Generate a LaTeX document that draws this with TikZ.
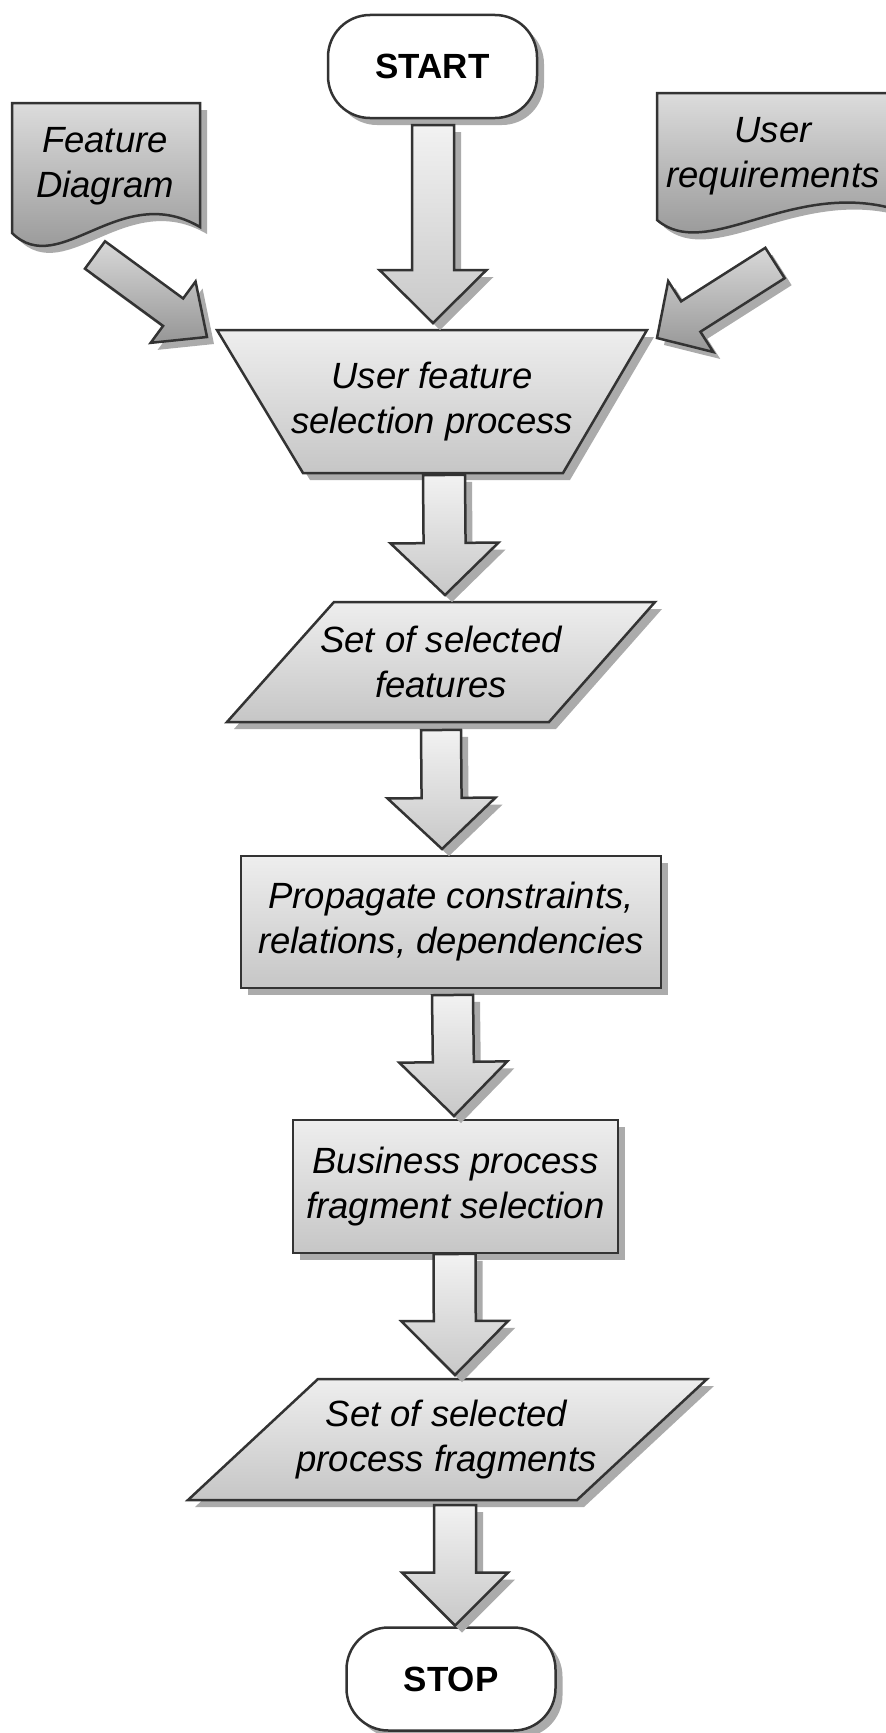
\documentclass[tikz,border=0pt]{standalone}
\usepackage{fontspec}
\setmainfont{Liberation Sans}
\usetikzlibrary{calc}
\definecolor{edgec}{HTML}{333333}
\definecolor{shadowc}{HTML}{ABABAB}
\definecolor{proctop}{HTML}{EEEEEE}
\definecolor{procbot}{HTML}{C6C6C6}
\definecolor{doctop}{HTML}{DCDCDC}
\definecolor{docbot}{HTML}{8C8C8C}
\definecolor{arrtop}{HTML}{F2F2F2}
\definecolor{arrbot}{HTML}{C8C8C8}
\definecolor{darrtop}{HTML}{D8D8D8}
\definecolor{darrbot}{HTML}{969696}
\tikzset{
  shadowed/.style={preaction={fill=shadowc, draw=none, transform canvas={shift={(7bp,-7bp)}}}},
  edgeline/.style={draw=edgec, line width=2.5bp, line join=miter},
  proc/.style={edgeline, shadowed, top color=proctop, bottom color=procbot},
  docshape/.style={edgeline, shadowed, top color=doctop, bottom color=docbot},
  varrow/.style={edgeline, shadowed, top color=arrtop, bottom color=arrbot},
  darrow/.style={edgeline, shadowed, top color=darrtop, bottom color=darrbot},
  txt/.style={font=\fontsize{36.5bp}{45bp}\selectfont\itshape, align=center, inner sep=0pt, outer sep=0pt, text=black},
  procbox/.style={proc, txt},
  termbox/.style={edgeline, shadowed, fill=white, rounded corners=42bp, minimum width=209bp, minimum height=103bp, inner sep=0pt, outer sep=0pt, font=\fontsize{35bp}{42bp}\selectfont\bfseries}
}
% style, tail, tip, half shaft, half head, head length
\newcommand\blockarr[6]{%
  \coordinate (bneck) at ($(#3)!#6!(#2)$);
  \path[#1] ($(#2)!#4!90:(#3)$) -- ($(bneck)!#4!-90:(#2)$) -- ($(bneck)!#5!-90:(#2)$) -- (#3)
    -- ($(bneck)!#5!90:(#2)$) -- ($(bneck)!#4!90:(#2)$) -- ($(#2)!#4!-90:(#3)$) -- cycle;
}
\begin{document}
\begin{tikzpicture}[x=1bp, y=-1bp]
\useasboundingbox (0,0) rectangle (885,1733);

% documents
\path[docshape] (12,103) -- (200,103) -- (200,227) .. controls (120,180) and (60,280) .. (12,233) -- cycle;
\node[txt] (fd) at (105,166) {Feature\\Diagram};
\path[docshape] (657,93) -- (912,93) -- (912,215) .. controls (800,170) and (710,265) .. (657,220) -- cycle;
\node[txt] (ur) at (773,156) {User\\requirements};

% terminals
\node[termbox] (start) at (432.5,66.5) {START};
\node[termbox] (stop) at (451,1679) {STOP};

% trapezoid
\path[proc] (217,330) -- (647,330) -- (563,473) -- (303,473) -- cycle;
\node[txt, minimum width=430bp, minimum height=143bp] (trap) at (432,401.5) {User feature\\selection process};

% parallelogram 1
\path[proc] (334,602) -- (655,602) -- (549,722) -- (227,722) -- cycle;
\node[txt, minimum width=428bp, minimum height=120bp] (sel) at (441,662) {Set of selected\\features};

% rectangles
\node[procbox, minimum width=420bp, minimum height=132bp] (prop) at (451,922) {Propagate constraints,\\relations, dependencies};
\node[procbox, minimum width=325bp, minimum height=133bp] (biz) at (455.5,1186.5) {Business process\\fragment selection};

% parallelogram 2
\path[proc] (318,1379) -- (707,1379) -- (577,1500) -- (188,1500) -- cycle;
\node[txt, minimum width=519bp, minimum height=121bp] (frag) at (446.5,1439.5) {Set of selected\\process fragments};

% arrow end points
\coordinate (s1) at ($(start.south)+(0.5,7)$);
\coordinate (e1) at ($(trap.north)+(1,-7)$);
\coordinate (s2) at ($(trap.south)+(12,2)$);
\coordinate (e2) at ($(sel.north)+(4,-7)$);
\coordinate (s3) at ($(sel.south)+(0,8)$);
\coordinate (e3) at ($(prop.north)+(-9,-7)$);
\coordinate (s4) at ($(prop.south)+(1.5,7)$);
\coordinate (e4) at ($(biz.north)+(-1.5,-4)$);
\coordinate (s5) at ($(biz.south)+(-1,1)$);
\coordinate (e5) at ($(frag.north)+(8.5,-4)$);
\coordinate (s6) at ($(frag.south)+(8.5,5)$);
\coordinate (e6) at ($(stop.north)+(4,-2)$);
\coordinate (s7) at ($(fd)+(-10,89)$);
\coordinate (e7) at ($(trap.north west)+(-10,7)$);
\coordinate (s8) at ($(ur)+(2,107)$);
\coordinate (e8) at ($(trap.north east)+(10,8)$);

% block arrows
\blockarr{varrow}{s1}{e1}{21bp}{53.5bp}{53bp}
\blockarr{varrow}{s2}{e2}{21bp}{54bp}{52bp}
\blockarr{varrow}{s3}{e3}{20bp}{54bp}{51bp}
\blockarr{varrow}{s4}{e4}{20.5bp}{54bp}{54bp}
\blockarr{varrow}{s5}{e5}{21bp}{53.5bp}{54bp}
\blockarr{varrow}{s6}{e6}{21bp}{53bp}{53bp}
\blockarr{darrow}{s7}{e7}{17bp}{38bp}{42bp}
\blockarr{darrow}{s8}{e8}{18bp}{42bp}{40bp}
\end{tikzpicture}
\end{document}
